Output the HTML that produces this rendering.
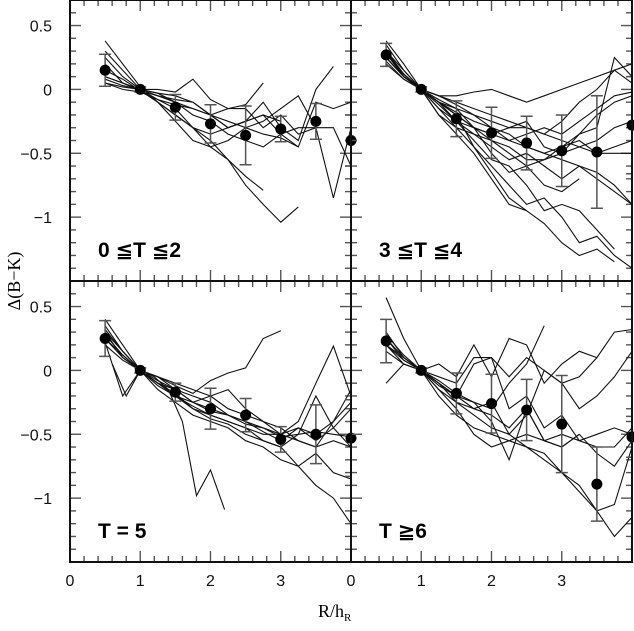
<!DOCTYPE html>
<html><head><meta charset="utf-8"><style>
html,body{margin:0;padding:0;background:#fff}
svg{display:block}
text{font-family:"Liberation Sans","DejaVu Sans",sans-serif}
</style></head><body>
<svg id="chart" width="634" height="631" viewBox="0 0 634 631" xmlns="http://www.w3.org/2000/svg">
<g id="marks"></g>
<text x="0" y="0" font-size="18" text-anchor="middle" style="font-family:'Liberation Serif',serif" transform="translate(20,281) rotate(-90)">Δ(B−K)</text>
<text x="318" y="617" font-size="18" style="font-family:'Liberation Serif',serif">R/h<tspan font-size="11" dy="4">R</tspan></text>
</svg>
<script>
// x ticks & y ticks
const xTickLabels = ["0","1","2","3"];
const yTickValues = [0.5, 0, -0.5, -1];
const yTickLabels = ["0.5","0","−0.5","−1"];
const panelLabels = ["0 ≦T ≦2","3 ≦T ≦4","T = 5","T ≧6"];
// mean points per panel at R/h = 0.5..4
const meanX = [0.5,1,1.5,2,2.5,3,3.5,4];
const meanA = [0.15,0,-0.14,-0.27,-0.36,-0.31,-0.25,-0.40];
const errA  = [0.125,0.02,0.10,0.15,0.23,0.10,0.14,0.20];
const meanB = [0.27,0,-0.23,-0.34,-0.42,-0.48,-0.49,-0.28];
const errB  = [0.09,0.02,0.14,0.20,0.21,0.28,0.44,0.38];
const meanC = [0.25,0,-0.17,-0.30,-0.35,-0.54,-0.50,-0.53];
const errC  = [0.14,0.02,0.07,0.16,0.13,0.10,0.23,0.30];
const meanD = [0.23,0,-0.18,-0.26,-0.31,-0.42,-0.89,-0.52];
const errD  = [0.17,0.02,0.16,0.23,0.24,0.38,0.29,0.16];
// individual galaxy profiles: [startX, step, values...]
const linesA = [
[0.5,0.25,0.38,0.2,0.02,-0.1,-0.25,-0.4,-0.45,-0.55,-0.68,-0.79],
[0.5,0.25,0.3,0.15,0,-0.1,-0.2,-0.3,-0.4,-0.55,-0.75,-0.9,-1.04,-0.92],
[0.5,0.25,0.1,0.05,0,0,-0.02,0.08,-0.08,-0.15,-0.12,0.05],
[0.5,0.25,0.2,0.05,-0.01,-0.05,-0.1,-0.15,-0.2,-0.3,-0.25,-0.1,-0.3,-0.4,0.0,0.18],
[0.5,0.25,0.1,0.05,0,-0.05,-0.08,-0.1,-0.2,-0.15,-0.15,-0.3,-0.2,-0.35,-0.3,-0.85,-0.3],
[0.5,0.25,0.05,0.02,0,-0.03,-0.1,-0.2,-0.25,-0.35,-0.4,-0.45,-0.35,-0.45,-0.1,-0.15,-0.1],
[0.5,0.25,0.15,0.08,-0.01,-0.1,-0.2,-0.3,-0.35,-0.3,-0.25,-0.2,-0.35,-0.3,-0.3,-0.3,-0.6],
[0.5,0.25,0.05,0,-0.02,-0.08,-0.12,-0.15,-0.2,-0.25,-0.3,-0.35,-0.38,-0.45],
[0.5,0.25,0.25,0.1,0,-0.08,-0.15,-0.3,-0.45,-0.4,-0.3,-0.25,-0.15,-0.05,-0.3],
[0.5,0.25,0.08,0.03,0,-0.03,-0.05,-0.1,-0.2,-0.3,-0.25,-0.2,-0.25]
];
const linesB = [
[0.5,0.25,0.3,0.12,0,-0.2,-0.35,-0.5,-0.7,-0.9,-0.95,-1.05,-1.2,-1.3,-1.25,-1.35],
[0.5,0.25,0.25,0.1,0,-0.15,-0.3,-0.45,-0.6,-0.75,-0.9,-0.85,-1.0,-1.2,-1.15,-1.3,-1.4],
[0.5,0.25,0.35,0.15,0,-0.12,-0.25,-0.4,-0.55,-0.6,-0.75,-0.95,-0.9,-0.95,-1.1,-1.25],
[0.5,0.25,0.3,0.1,0,-0.1,-0.2,-0.45,-0.65,-0.85,-0.95],
[0.5,0.25,0.28,0.1,0,-0.05,-0.05,-0.02,0,-0.05,-0.1,-0.05,0.0,0.05,0.1,0.15,0.2],
[0.5,0.25,0.25,0.1,0,-0.08,-0.15,-0.2,-0.25,-0.3,-0.3,-0.35,-0.25,-0.1,0.0,0.15,0.05],
[0.5,0.25,0.3,0.15,0,-0.1,-0.2,-0.3,-0.35,-0.4,-0.45,-0.5,-0.55,-0.6,-0.7,-0.8,-0.9],
[0.5,0.25,0.25,0.1,0,-0.15,-0.25,-0.3,-0.4,-0.5,-0.6,-0.55,-0.5,-0.45,-0.4,-0.3,-0.25],
[0.5,0.25,0.2,0.08,0,-0.05,-0.1,-0.15,-0.2,-0.25,-0.3,-0.35,-0.4,-0.45,-0.5,-0.5,-0.5],
[0.5,0.25,0.3,0.1,0,-0.1,-0.15,-0.3,-0.35,-0.3,-0.25,-0.45,-0.5,-0.35,-0.2,-0.1,-0.05],
[0.5,0.25,0.3,0.12,0,-0.1,-0.25,-0.35,-0.4,-0.45,-0.55,-0.55,-0.45,-0.4,-0.5,-0.45,-0.4],
[0.5,0.25,0.38,0.2,0,-0.2,-0.3,-0.35,-0.45,-0.55,-0.5,-0.6,-0.7,-0.6,-0.65,-0.75,-0.9],
[0.5,0.25,0.22,0.08,0,-0.05,-0.12,-0.2,-0.3,-0.4,-0.35,-0.3,-0.35,-0.25,-0.15,-0.05,-0.02],
[0.5,0.25,0.3,0.12,0,-0.1,-0.18,-0.25,-0.3,-0.35,-0.45,-0.5,-0.45,-0.35,-0.3,0.25,0.1],
[0.5,0.25,0.25,0.1,0,-0.1,-0.2,-0.3,-0.5,-0.65,-0.6,-0.75,-0.8,-0.7]
];
const linesC = [
[0.5,0.25,0.4,0.2,0,-0.05,-0.12,-0.18,-0.08,-0.02,0.02,0.25,0.31],
[0.6,0.2,0.05,-0.2,0,-0.05,-0.15,-0.4,-0.98,-0.78,-1.09],
[0.5,0.25,0.3,0.15,0,-0.1,-0.2,-0.3,-0.35,-0.4,-0.45,-0.5,-0.5,-0.4,-0.1,0.19,-0.2],
[0.5,0.25,0.35,0.15,0,-0.1,-0.2,-0.28,-0.35,-0.4,-0.45,-0.55,-0.6,-0.5,-0.2,-0.45,-0.6],
[0.5,0.25,0.3,0.1,0,-0.15,-0.25,-0.35,-0.4,-0.45,-0.55,-0.6,-0.7,-0.75,-0.9,-1.0,-1.2],
[0.5,0.25,0.2,0.08,0,-0.1,-0.15,-0.2,-0.25,-0.35,-0.4,-0.45,-0.5,-0.55,-0.6,-0.55,-0.6],
[0.5,0.25,0.25,0.1,0,-0.05,-0.1,-0.15,-0.2,-0.3,-0.35,-0.4,-0.45,-0.55,-0.6,-0.4,-0.15],
[0.5,0.25,0.28,0.12,0,-0.12,-0.2,-0.25,-0.32,-0.35,-0.42,-0.45,-0.52,-0.5,-0.48,-0.5,-0.52],
[0.5,0.25,0.22,-0.2,0,-0.05,-0.15,-0.25,-0.3,-0.35,-0.4,-0.48,-0.55,-0.45,-0.5,-0.4,-0.25],
[0.5,0.25,0.32,0.15,0,-0.08,-0.15,-0.25,-0.2,-0.15,-0.3,-0.4,-0.5,-0.45,-0.55,-0.45,-0.3],
[0.5,0.25,0.25,0.12,0,-0.1,-0.18,-0.3,-0.38,-0.42,-0.5,-0.55,-0.6,-0.75,-0.65,-0.8,-0.85]
];
const linesD = [
[0.5,0.25,0.57,0.25,0,-0.12,-0.2,-0.25,-0.3,-0.1,0.05,0.35],
[0.5,0.25,0.2,0.1,0,-0.05,-0.1,0.1,0.1,-0.05,0.1,0.0,-0.1,-0.05,0.1,0.3,0.32],
[0.5,0.25,0.25,0.08,0,-0.15,-0.25,-0.35,-0.45,-0.5,-0.6,-0.65,-0.8,-0.95,-1.1,-1.05,-0.6],
[0.5,0.25,0.15,0.05,0,-0.2,-0.35,-0.45,-0.5,-0.55,-0.6,-0.7,-0.8,-0.9,-1.1,-1.3,-1.15],
[0.5,0.25,0.2,0.08,0,-0.15,-0.3,-0.5,-0.6,-0.55,-0.5,-0.55,-0.6,-0.5,-0.65,-0.75,-0.55],
[0.5,0.25,-0.1,0.05,0,-0.1,-0.2,0.05,0.1,-0.3,-0.2,-0.45,-0.35,-0.55,-0.5,-0.45,-0.5],
[0.5,0.25,0.3,0.1,0,-0.1,-0.25,-0.3,-0.25,-0.5,-0.35,0.0,-0.1,-0.3,-0.2,-0.05,0.15],
[0.5,0.25,0.28,0.12,0,-0.08,-0.18,-0.25,-0.4,-0.7,-0.3,-0.55,-0.6,-0.5],
[0.5,0.25,0.2,0.05,0,-0.1,-0.2,-0.3,-0.35,-0.45,-0.3,-0.55,-0.5,-0.55,-0.6,-0.6,-0.45],
[0.5,0.25,0.25,0.1,0,0.05,-0.05,0.2,-0.05,0.25,0.2,-0.1,0.05,0.15,0.1]
];

const NS = "http://www.w3.org/2000/svg";
const root = document.getElementById('marks');
const panels = [
 {x0:70, y0:0, name:"early-type", mean:meanA, err:errA, lines:linesA, label:panelLabels[0]},
 {x0:351, y0:0, name:"intermediate", mean:meanB, err:errB, lines:linesB, label:panelLabels[1]},
 {x0:70, y0:281, name:"sc-type", mean:meanC, err:errC, lines:linesC, label:panelLabels[2]},
 {x0:351, y0:281, name:"late-type", mean:meanD, err:errD, lines:linesD, label:panelLabels[3]}
];
const W = 281, H = 281, YMAX = 0.7, YMIN = -1.5, XMAX = 4;
function mk(tag, attrs){const e=document.createElementNS(NS,tag);for(const k in attrs)e.setAttribute(k,attrs[k]);return e;}

panels.forEach((p, pi) => {
  const sx = v => p.x0 + v / XMAX * W;
  const sy = v => p.y0 + (YMAX - v) / (YMAX - YMIN) * H;
  const g = mk('g', {});
  
  
  root.appendChild(g);
  const cid = 'clip' + pi;
  const cp = mk('clipPath', {id: cid});
  cp.appendChild(mk('rect', {x: p.x0, y: p.y0, width: W, height: H}));
  g.appendChild(cp);
  for (let i = 0; i <= 20; i++) {
    const xv = i * 0.2, X = sx(xv);
    const len = (i % 5 === 0) ? 11 : 6;
    const t1 = mk('line', {x1: X, y1: p.y0 + H, x2: X, y2: p.y0 + H - len, stroke: '#555', 'stroke-width': 1.4});
    
    
    g.appendChild(t1);
    const t2 = mk('line', {x1: X, y1: p.y0, x2: X, y2: p.y0 + len, stroke: '#555', 'stroke-width': 1.4});
    
    
    g.appendChild(t2);
  }
  for (let i = -15; i <= 7; i++) {
    const yv = i * 0.1, Y = sy(yv);
    const len = (i % 5 === 0) ? 11 : 6;
    const t1 = mk('line', {x1: p.x0, y1: Y, x2: p.x0 + len, y2: Y, stroke: '#555', 'stroke-width': 1.4});
    
    
    g.appendChild(t1);
    const t2 = mk('line', {x1: p.x0 + W, y1: Y, x2: p.x0 + W - len, y2: Y, stroke: '#555', 'stroke-width': 1.4});
    
    
    g.appendChild(t2);
  }
  if (p.x0 === 70) {
    yTickValues.forEach((v, i) => {
      const t = mk('text', {x: 52, y: sy(v) + 6, 'font-size': 16, 'text-anchor': 'end', fill: '#111'});
      t.textContent = yTickLabels[i];
      
      
      g.appendChild(t);
    });
  }
  if (p.y0 === 281) {
    xTickLabels.forEach((s, i) => {
      const t = mk('text', {x: sx(i), y: 586, 'font-size': 16, 'text-anchor': 'middle', fill: '#111'});
      t.textContent = s;
      
      
      g.appendChild(t);
    });
  }
  const lg = mk('g', {'clip-path': 'url(#' + cid + ')'});
  g.appendChild(lg);
  p.lines.forEach(L => {
    const x0 = L[0], st = L[1];
    const pts = L.slice(2).map((v, k) => sx(x0 + k * st).toFixed(1) + ',' + sy(v).toFixed(1)).join(' ');
    const pl = mk('polyline', {points: pts, fill: 'none', stroke: '#111', 'stroke-width': 1.1});
    
    
    lg.appendChild(pl);
  });
  meanX.forEach((xv, k) => {
    const X = sx(xv), m = p.mean[k], e = p.err[k];
    const eb = mk('path', {d: `M${X},${sy(m+e)}V${sy(m-e)}M${X-6},${sy(m+e)}H${X+6}M${X-6},${sy(m-e)}H${X+6}`, stroke: '#555', 'stroke-width': 1.5, fill: 'none'});
    
    
    lg.appendChild(eb);
    const c = mk('circle', {cx: X, cy: sy(m), r: 5.5, fill: '#000'});
    
    
    g.appendChild(c);
  });
  const fr = mk('rect', {x: p.x0, y: p.y0, width: W, height: H, fill: 'none', stroke: '#111', 'stroke-width': 2});
  
  
  g.appendChild(fr);
  const lb = mk('text', {x: p.x0 + 28, y: p.y0 + 257, 'font-size': 21, 'font-weight': 'bold', fill: '#000'});
  lb.textContent = p.label;
  
  
  g.appendChild(lb);
});
</script>
</body></html>
